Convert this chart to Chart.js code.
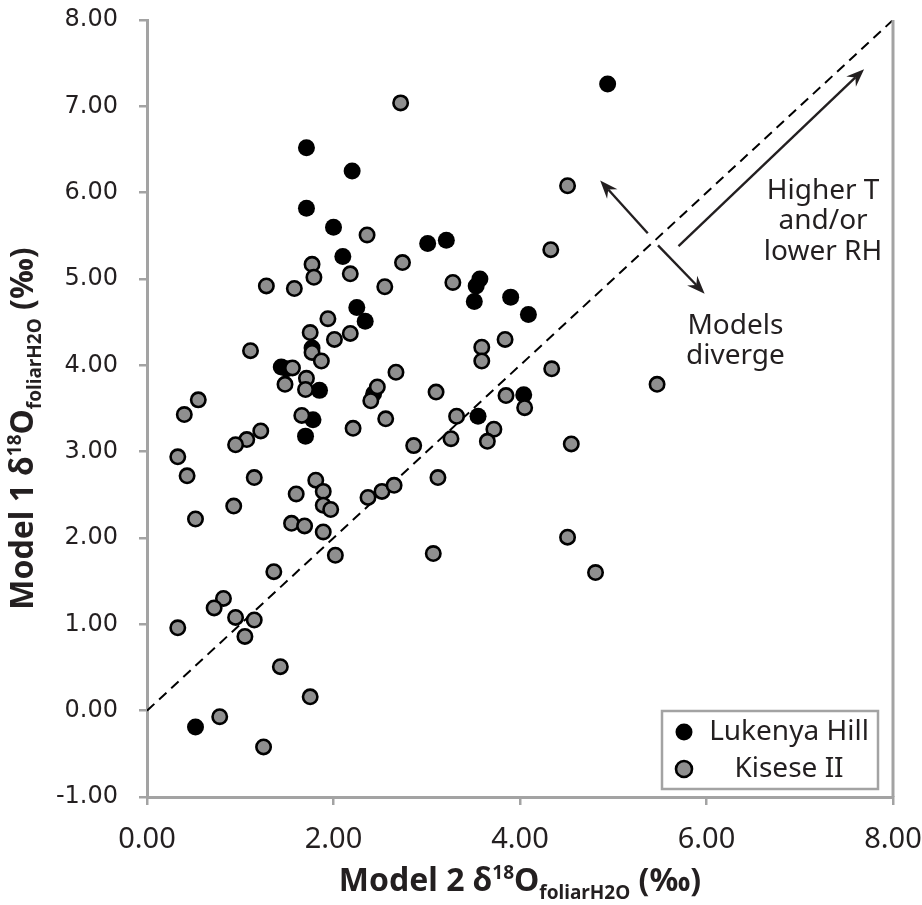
<!DOCTYPE html>
<html>
<head>
<meta charset="utf-8">
<script src="https://cdn.jsdelivr.net/npm/chart.js@4.4.1/dist/chart.umd.min.js"></script>
<style>
  html, body { margin: 0; padding: 0; background: #ffffff; }
  #wrap { width: 922px; height: 905px; position: relative; }
</style>
</head>
<body>
<div id="wrap"><canvas id="c" width="922" height="905"></canvas></div>
<script>
// ---------- DATA ----------
const seriesNames = ["Lukenya Hill", "Kisese II"];

const lukenyaX = [4.94, 1.71, 2.20, 1.71, 2.00, 2.10, 3.01, 3.21, 2.25, 2.34, 3.57, 3.53, 3.51, 3.90, 4.09, 1.77, 1.44, 1.50, 1.85, 2.43, 1.78, 1.70, 4.04, 3.55, 0.52];
const lukenyaY = [7.26, 6.52, 6.25, 5.82, 5.60, 5.26, 5.41, 5.45, 4.67, 4.51, 5.00, 4.92, 4.74, 4.79, 4.59, 4.20, 3.98, 3.96, 3.71, 3.67, 3.37, 3.18, 3.66, 3.41, -0.19];

const kiseseX = [2.72, 4.51, 4.33, 2.36, 1.77, 1.79, 2.18, 2.74, 1.28, 1.58, 2.55, 3.28, 1.94, 1.75, 2.01, 2.18, 1.77, 1.87, 1.11, 1.56, 1.48, 1.71, 1.70, 2.67, 2.47, 2.40, 3.10, 0.55, 0.40, 1.66, 2.21, 2.56, 1.22, 1.07, 0.95, 0.33, 2.86, 3.12, 0.43, 1.15, 1.81, 1.89, 1.60, 1.89, 1.97, 2.37, 2.52, 2.65, 0.93, 0.52, 1.55, 1.69, 1.89, 2.02, 3.07, 1.36, 0.82, 0.72, 0.95, 1.15, 0.33, 1.05, 1.43, 1.75, 0.78, 1.25, 3.84, 3.59, 3.59, 4.34, 5.47, 3.85, 4.05, 3.32, 3.72, 3.26, 3.65, 4.55, 4.51, 4.81];
const kiseseY = [7.04, 6.08, 5.34, 5.51, 5.17, 5.02, 5.06, 5.19, 4.92, 4.89, 4.91, 4.96, 4.54, 4.38, 4.30, 4.37, 4.15, 4.05, 4.17, 3.97, 3.78, 3.85, 3.72, 3.92, 3.75, 3.59, 3.69, 3.60, 3.43, 3.42, 3.27, 3.38, 3.24, 3.14, 3.08, 2.94, 3.07, 2.70, 2.72, 2.70, 2.67, 2.54, 2.51, 2.38, 2.33, 2.47, 2.54, 2.61, 2.37, 2.22, 2.17, 2.14, 2.07, 1.80, 1.82, 1.61, 1.30, 1.19, 1.08, 1.05, 0.96, 0.86, 0.51, 0.16, -0.07, -0.42, 4.30, 4.21, 4.05, 3.96, 3.78, 3.65, 3.51, 3.41, 3.26, 3.15, 3.12, 3.09, 2.01, 1.60];

// 1:1 line
const oneToOneX = [0, 8];
const oneToOneY = [0, 8];

// axis ticks
const xTickValues = [0, 2, 4, 6, 8];
const yTickValues = [-1, 0, 1, 2, 3, 4, 5, 6, 7, 8];

// annotation arrows [x0, y0, x1, y1] in data units
const arrowHigher = [5.70, 5.38, 7.69, 7.43];
const arrowDivergeUp = [5.37, 5.53, 4.86, 6.14];
const arrowDivergeDown = [5.48, 5.39, 5.98, 4.83];

// annotation texts
const noteHigherLines = ["Higher T", "and/or", "lower RH"];
const noteHigherAt = [7.25, 6.02];
const noteDivergeLines = ["Models", "diverge"];
const noteDivergeAt = [6.31, 4.46];

// axis titles pieces
const xTitleParts = ["Model 2 δ", "18", "O", "foliarH2O", " (‰)"];
const yTitleParts = ["Model 1 δ", "18", "O", "foliarH2O", " (‰)"];

// ---------- BUILD ----------
const toPts = (xs, ys) => xs.map((x, i) => ({ x: x, y: ys[i] }));

const INK = '#231f20';
const AXIS = '#a3a3a3';

function drawTitle(ctx, parts, cx, baseY, rotate) {
  const big = 'bold 32px "Noto Sans"';
  const small = 'bold 19px "Noto Sans"';
  const fonts = [big, small, big, small, big];
  const dy = [0, -12, 0, 8, 0];
  ctx.save();
  ctx.translate(cx, baseY);
  if (rotate) ctx.rotate(-Math.PI / 2);
  let total = 0;
  const widths = parts.map((p, i) => { ctx.font = fonts[i]; const w = ctx.measureText(p).width; total += w; return w; });
  let x = -total / 2;
  ctx.fillStyle = INK;
  ctx.textBaseline = 'alphabetic';
  ctx.textAlign = 'left';
  parts.forEach((p, i) => {
    ctx.font = fonts[i];
    ctx.fillText(p, x, dy[i]);
    x += widths[i];
  });
  ctx.restore();
}

function drawArrow(ctx, xs, ys, a) {
  const x0 = xs.getPixelForValue(a[0]), y0 = ys.getPixelForValue(a[1]);
  const x1 = xs.getPixelForValue(a[2]), y1 = ys.getPixelForValue(a[3]);
  const ang = Math.atan2(y1 - y0, x1 - x0);
  const L = 18, W = 7, notch = 6;
  ctx.save();
  ctx.strokeStyle = INK;
  ctx.fillStyle = INK;
  ctx.lineWidth = 2.4;
  ctx.beginPath();
  ctx.moveTo(x0, y0);
  ctx.lineTo(x1 - (L - notch) * Math.cos(ang), y1 - (L - notch) * Math.sin(ang));
  ctx.stroke();
  ctx.translate(x1, y1);
  ctx.rotate(ang);
  ctx.beginPath();
  ctx.moveTo(0, 0);
  ctx.lineTo(-L, -W);
  ctx.lineTo(-L + notch, 0);
  ctx.lineTo(-L, W);
  ctx.closePath();
  ctx.fill();
  ctx.restore();
}

function zeroPad(s) { s.paddingTop = 0; s.paddingBottom = 0; s.paddingLeft = 0; s.paddingRight = 0; }

const decorPlugin = {
  id: 'decor',
  afterDatasetsDraw(chart) {
    const ctx = chart.ctx;
    const ca = chart.chartArea;
    const xs = chart.scales.x, ys = chart.scales.y;
    // right border
    ctx.save();
    ctx.strokeStyle = AXIS;
    ctx.lineWidth = 3;
    ctx.beginPath();
    ctx.moveTo(ca.right, ca.top);
    ctx.lineTo(ca.right, ca.bottom);
    ctx.stroke();
    ctx.restore();

    // arrows
    drawArrow(ctx, xs, ys, arrowHigher);
    drawArrow(ctx, xs, ys, arrowDivergeUp);
    drawArrow(ctx, xs, ys, arrowDivergeDown);

    // notes
    ctx.save();
    ctx.fillStyle = INK;
    ctx.font = '28px "Noto Sans"';
    ctx.textAlign = 'center';
    ctx.textBaseline = 'middle';
    const hx = xs.getPixelForValue(noteHigherAt[0]), hy = ys.getPixelForValue(noteHigherAt[1]);
    noteHigherLines.forEach((t, i) => ctx.fillText(t, hx, hy + i * 30.5));
    const dx = xs.getPixelForValue(noteDivergeAt[0]), dyy = ys.getPixelForValue(noteDivergeAt[1]);
    noteDivergeLines.forEach((t, i) => ctx.fillText(t, dx, dyy + i * 30.5));
    ctx.restore();

    // legend box (bottom-right inside the plot)
    const bw = 216, bh = 78;
    const bx = ca.right - 15 - bw, by = ca.bottom - 8 - bh;
    ctx.save();
    ctx.fillStyle = '#ffffff';
    ctx.fillRect(bx, by, bw, bh);
    ctx.strokeStyle = AXIS;
    ctx.lineWidth = 2.5;
    ctx.strokeRect(bx, by, bw, bh);
    ctx.font = '28px "Noto Sans"';
    ctx.textBaseline = 'middle';
    ctx.textAlign = 'center';
    chart.data.datasets.forEach((ds, i) => {
      if (ds.label === '1:1') return;
      const rowY = by + 21 + i * 37;
      ctx.beginPath();
      ctx.arc(bx + 22, rowY, i === 0 ? 8.5 : 8, 0, Math.PI * 2);
      ctx.fillStyle = ds.backgroundColor;
      ctx.fill();
      ctx.lineWidth = ds.borderWidth;
      ctx.strokeStyle = ds.borderColor;
      if (ds.borderWidth > 0) ctx.stroke();
      ctx.fillStyle = INK;
      ctx.fillText(ds.label, bx + 127, rowY);
    });
    ctx.restore();
  },
  afterDraw(chart) {
    const ctx = chart.ctx;
    const ca = chart.chartArea;
    drawTitle(ctx, xTitleParts, (ca.left + ca.right) / 2, 891, false);
    drawTitle(ctx, yTitleParts, 33, (ca.top + ca.bottom) / 2 + 20, true);
  }
};

new Chart(document.getElementById('c'), {
  type: 'scatter',
  data: {
    datasets: [
      {
        label: seriesNames[0],
        data: toPts(lukenyaX, lukenyaY),
        backgroundColor: '#000000',
        borderColor: '#000000',
        borderWidth: 0,
        pointRadius: 8.5,
        pointHoverRadius: 8.5,
        order: 2
      },
      {
        label: seriesNames[1],
        data: toPts(kiseseX, kiseseY),
        backgroundColor: '#8f8f8f',
        borderColor: '#000000',
        borderWidth: 2.6,
        pointRadius: 7.2,
        pointHoverRadius: 7.2,
        order: 1
      },
      {
        label: '1:1',
        type: 'line',
        data: toPts(oneToOneX, oneToOneY),
        borderColor: '#000000',
        borderWidth: 2,
        borderDash: [10, 6.5],
        pointRadius: 0,
        fill: false,
        order: 3
      }
    ]
  },
  options: {
    responsive: false,
    animation: false,
    layout: { padding: { top: 20, right: 29, left: 0, bottom: 0 } },
    plugins: {
      legend: { display: false },
      tooltip: { enabled: false },
      title: { display: false }
    },
    scales: {
      x: {
        type: 'linear',
        min: 0, max: 8,
        afterBuildTicks(s) { s.ticks = xTickValues.map(v => ({ value: v })); },
        afterFit(s) { s.height = 108; zeroPad(s); },
        ticks: {
          callback: v => Number(v).toFixed(2),
          font: { family: '"Noto Sans"', size: 29 },
          color: INK,
          padding: 17,
          maxRotation: 0
        },
        grid: { drawOnChartArea: false, drawTicks: true, tickLength: 8, color: AXIS, lineWidth: 2.5 },
        border: { color: AXIS, width: 3 }
      },
      y: {
        type: 'linear',
        min: -1, max: 8,
        afterBuildTicks(s) { s.ticks = yTickValues.map(v => ({ value: v })); },
        afterFit(s) { s.width = 147; zeroPad(s); },
        ticks: {
          callback: v => Number(v).toFixed(2),
          font: { family: '"DejaVu Sans"', size: 24 },
          color: INK,
          padding: 21
        },
        grid: { drawOnChartArea: false, drawTicks: true, tickLength: 8, color: AXIS, lineWidth: 2.5 },
        border: { color: AXIS, width: 3 }
      }
    }
  },
  plugins: [decorPlugin]
});
</script>
</body>
</html>
